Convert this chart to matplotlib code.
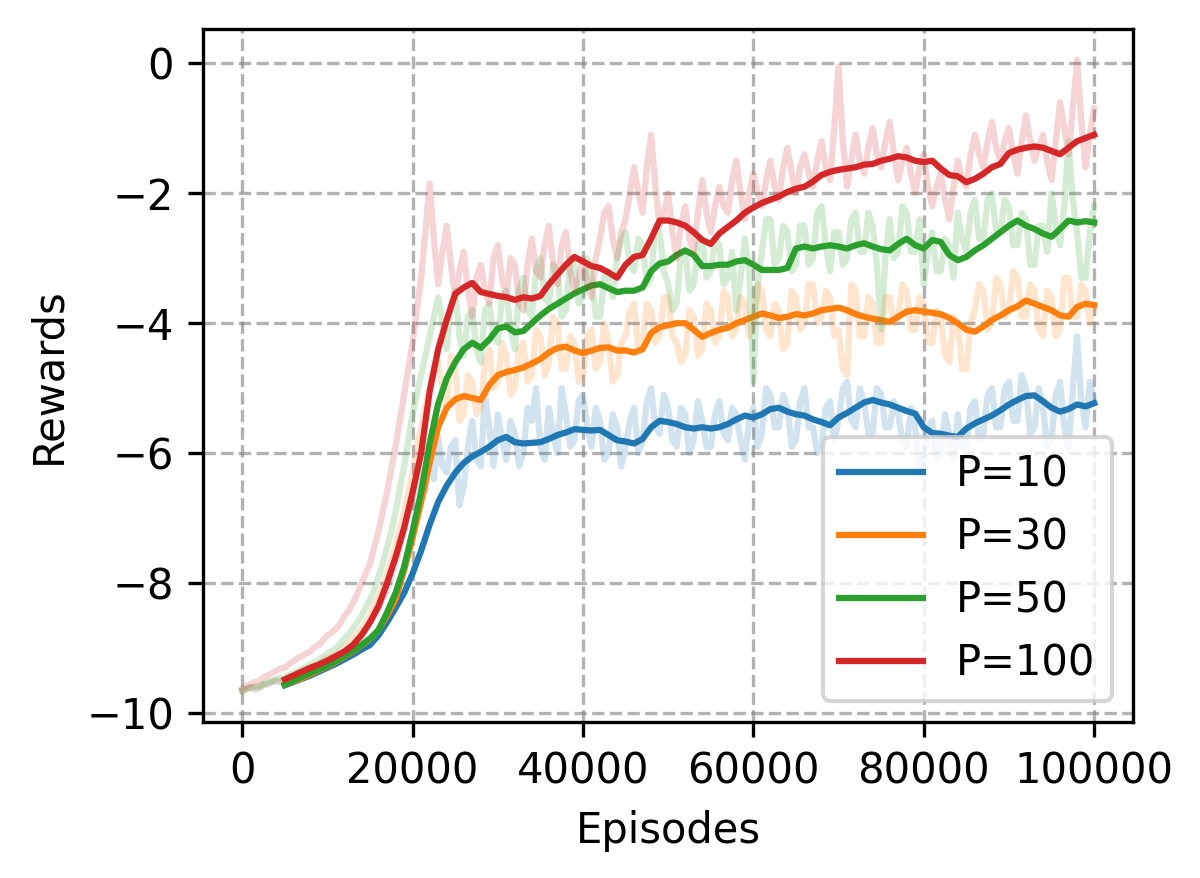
import numpy as np
import matplotlib
matplotlib.use("Agg")
import matplotlib.pyplot as plt

# raw rewards, one value every 500 episodes (0 .. 100000), 10 values per row
episodes_raw = np.arange(0, 100001, 500)

raw_p10 = [-9.65, -9.63, -9.6, -9.64, -9.62, -9.56, -9.55, -9.52, -9.5, -9.53,
           -9.5, -9.46, -9.45, -9.41, -9.4, -9.37, -9.35, -9.31, -9.3, -9.24,
           -9.2, -9.18, -9.15, -9.09, -9.05, -9.0, -8.95, -8.88, -8.8, -8.72,
           -8.6, -8.5, -8.4, -8.25, -8.1, -7.9, -7.7, -7.45, -7.2, -6.95,
           -6.7, -6.5, -6.3, -6.6, -6.0, -6.4, -5.75, -6.2, -6.3, -5.9,
           -5.8, -6.8, -6.5, -5.9, -5.5, -6.1, -6.2, -5.1, -5.6, -6.2,
           -5.4, -5.8, -6.1, -5.5, -5.7, -6.2, -6.0, -5.3, -5.5, -5.0,
           -5.9, -6.1, -5.3, -5.7, -6.0, -5.0, -5.4, -5.9, -5.8, -5.2,
           -5.1, -5.6, -5.9, -5.3, -5.5, -6.1, -6.0, -5.4, -5.6, -6.2,
           -5.9, -5.5, -5.3, -6.0, -5.8, -5.2, -5.0, -5.6, -5.7, -5.1,
           -5.3, -5.8, -5.9, -5.3, -5.4, -6.0, -5.8, -5.2, -5.5, -5.9,
           -5.9, -5.4, -5.2, -5.7, -5.8, -5.3, -5.4, -5.8, -6.1, -5.5,
           -5.3, -5.9, -5.7, -5.0, -5.1, -5.6, -5.6, -5.1, -5.3, -5.9,
           -5.8, -5.2, -5.0, -5.6, -5.6, -6.0, -5.9, -5.3, -5.2, -5.8,
           -5.5, -5.0, -4.9, -5.5, -5.6, -5.0, -5.2, -5.7, -5.7, -5.0,
           -5.1, -5.6, -5.6, -5.2, -5.4, -5.8, -5.9, -5.3, -5.6, -6.2,
           -6.1, -5.6, -5.5, -6.1, -6.0, -5.4, -5.7, -6.1, -5.4, -5.9,
           -5.9, -5.3, -5.2, -5.8, -5.7, -5.1, -5.0, -5.6, -5.6, -5.0,
           -4.9, -5.5, -5.5, -4.8, -5.0, -5.7, -5.6, -5.0, -5.3, -5.9,
           -5.8, -5.1, -4.9, -5.6, -5.9, -5.0, -4.2, -5.2, -5.6, -4.9,
           -5.2]
raw_p30 = [-9.65, -9.63, -9.62, -9.6, -9.6, -9.57, -9.55, -9.52, -9.5, -9.5,
           -9.48, -9.44, -9.42, -9.38, -9.36, -9.33, -9.3, -9.27, -9.25, -9.19,
           -9.15, -9.13, -9.1, -9.04, -8.98, -8.92, -8.85, -8.78, -8.7, -8.6,
           -8.5, -8.35, -8.2, -8.05, -7.85, -7.65, -7.4, -7.15, -6.9, -6.6,
           -6.3, -5.9, -5.6, -5.3, -5.0, -4.7, -4.6, -5.0, -5.3, -4.5,
           -4.7, -5.5, -5.4, -4.8, -4.9, -5.4, -5.3, -4.6, -4.4, -5.0,
           -4.9, -4.3, -4.5, -5.1, -5.0, -4.4, -4.3, -4.9, -4.8, -4.1,
           -4.2, -4.8, -4.6, -3.9, -4.0, -4.7, -4.7, -4.2, -4.3, -4.9,
           -4.8, -4.2, -4.1, -4.7, -4.6, -4.0, -4.3, -4.9, -4.8, -4.3,
           -4.2, -3.8, -3.7, -4.4, -4.3, -3.7, -3.8, -4.3, -4.2, -3.6,
           -3.6, -4.2, -4.3, -4.6, -4.5, -3.8, -3.9, -4.5, -4.4, -3.7,
           -3.8, -4.3, -4.2, -3.5, -3.6, -4.2, -4.1, -3.6, -3.7, -4.2,
           -4.0, -3.4, -3.5, -4.1, -4.2, -3.7, -3.8, -4.4, -4.3, -3.5,
           -3.6, -4.1, -4.0, -3.4, -3.4, -4.0, -3.9, -3.5, -3.6, -4.2,
           -4.1, -4.7, -4.8, -3.4, -3.5, -4.2, -4.2, -3.6, -3.7, -4.3,
           -4.3, -3.6, -3.6, -4.0, -3.9, -3.4, -3.5, -4.1, -4.1, -3.6,
           -3.7, -4.3, -4.3, -3.8, -3.9, -4.5, -4.6, -3.9, -4.0, -4.7,
           -4.7, -4.0, -3.8, -3.4, -3.5, -4.1, -4.0, -3.3, -3.4, -3.9,
           -3.8, -3.2, -3.3, -3.9, -3.9, -3.4, -3.5, -4.1, -4.2, -3.5,
           -3.6, -4.2, -4.1, -3.3, -3.3, -3.9, -3.9, -3.4, -3.5, -4.0,
           -3.8]
raw_p50 = [-9.65, -9.62, -9.6, -9.59, -9.58, -9.55, -9.52, -9.5, -9.47, -9.46,
           -9.45, -9.41, -9.38, -9.35, -9.32, -9.28, -9.25, -9.21, -9.18, -9.13,
           -9.08, -9.04, -9.0, -8.93, -8.85, -8.78, -8.7, -8.6, -8.5, -8.38,
           -8.25, -8.1, -7.9, -7.7, -7.45, -7.2, -6.9, -6.55, -6.2, -5.8,
           -5.4, -5.1, -4.8, -4.5, -4.2, -3.9, -3.6, -4.0, -4.4, -3.7,
           -3.5, -4.2, -4.5, -3.9, -3.8, -4.4, -4.6, -3.8, -3.7, -4.2,
           -4.3, -3.6, -3.5, -4.1, -4.4, -3.5, -3.3, -3.8, -3.9, -3.2,
           -3.0, -3.6, -3.7, -3.1, -3.2, -3.9, -3.8, -3.0, -3.1, -3.7,
           -3.6, -3.0, -3.3, -3.9, -3.9, -3.3, -3.2, -3.6, -3.0, -2.7,
           -2.6, -3.1, -3.2, -2.7, -2.8, -3.4, -3.3, -2.5, -2.6, -3.2,
           -3.4, -3.8, -3.7, -2.9, -2.9, -3.5, -3.4, -2.8, -2.7, -3.3,
           -3.2, -2.7, -2.8, -3.4, -3.3, -2.9, -3.8, -3.3, -2.7, -3.2,
           -4.9, -3.4, -2.9, -2.4, -2.4, -3.1, -3.0, -2.5, -2.6, -3.2,
           -3.1, -2.5, -2.5, -3.1, -3.0, -2.3, -2.2, -2.8, -3.2, -2.6,
           -2.6, -3.1, -3.0, -2.4, -2.3, -2.9, -2.9, -2.3, -2.5, -3.1,
           -4.1, -3.0, -2.4, -3.0, -2.9, -2.2, -2.3, -2.9, -2.9, -2.4,
           -3.4, -2.9, -2.6, -3.2, -3.2, -2.7, -2.8, -3.3, -2.3, -2.7,
           -2.9, -2.3, -2.1, -2.7, -2.7, -2.1, -2.0, -2.6, -2.6, -2.1,
           -2.2, -2.8, -2.8, -2.3, -2.4, -3.1, -3.1, -2.5, -2.5, -2.9,
           -2.0, -2.5, -2.8, -2.2, -1.2, -2.1, -2.6, -3.3, -3.3, -2.6,
           -2.2]
raw_p100 = [-9.62, -9.58, -9.55, -9.52, -9.5, -9.45, -9.42, -9.38, -9.35, -9.31,
            -9.3, -9.24, -9.2, -9.15, -9.12, -9.08, -9.05, -8.98, -8.95, -8.87,
            -8.8, -8.76, -8.7, -8.62, -8.5, -8.42, -8.3, -8.17, -8.0, -7.85,
            -7.7, -7.45, -7.2, -6.9, -6.6, -6.25, -5.9, -5.5, -5.1, -4.7,
            -4.3, -3.8, -3.3, -2.6, -1.85, -2.7, -3.4, -2.9, -2.5, -3.1,
            -3.6, -3.2, -2.9, -3.5, -3.9, -3.3, -3.1, -3.5, -3.7, -3.0,
            -2.8, -3.3, -3.6, -3.0, -3.1, -3.7, -3.8, -3.1, -2.7, -3.2,
            -3.3, -2.8, -2.5, -3.1, -3.4, -2.8, -2.6, -3.2, -3.5, -3.3,
            -3.0, -3.4, -3.6, -3.0, -2.7, -2.3, -2.2, -2.7, -3.0, -2.6,
            -2.4, -2.0, -1.6, -2.0, -2.3, -1.6, -1.1, -1.9, -2.5, -2.3,
            -2.0, -2.6, -3.0, -2.5, -2.2, -2.7, -2.9, -2.3, -1.8, -2.3,
            -2.6, -2.2, -1.9, -2.2, -2.3, -1.8, -1.5, -2.0, -2.4, -2.0,
            -1.7, -2.0, -2.2, -1.8, -1.5, -1.9, -2.1, -1.6, -1.3, -1.7,
            -2.0, -1.6, -1.4, -1.7, -1.9, -1.5, -1.2, -1.6, -1.8, -1.0,
            -0.05, -1.2, -1.9, -1.5, -1.1, -1.5, -1.7, -1.3, -1.0, -1.4,
            -1.6, -1.2, -0.9, -1.4, -1.8, -1.5, -1.3, -1.7, -2.0, -1.6,
            -1.4, -1.9, -2.2, -1.9, -1.7, -2.1, -2.4, -1.9, -1.5, -1.8,
            -1.9, -1.4, -1.1, -1.4, -1.6, -1.2, -0.9, -1.3, -1.5, -1.2,
            -1.0, -1.4, -1.7, -1.2, -0.8, -1.2, -1.5, -1.3, -1.1, -1.5,
            -1.8, -1.2, -0.6, -1.0, -1.4, -0.7, 0.05, -0.9, -1.6, -1.1,
            -0.7]

# smoothed rewards, one value every 1000 episodes (5000 .. 100000)
episodes_smooth = np.arange(5000, 100001, 1000)

smooth_p10 = [-9.57, -9.52, -9.47, -9.42, -9.36, -9.3, -9.24, -9.17, -9.1, -9.02,
              -8.95, -8.8, -8.6, -8.38, -8.15, -7.85, -7.5, -7.1, -6.75, -6.5,
              -6.3, -6.15, -6.05, -5.98, -5.9, -5.8, -5.75, -5.83, -5.85, -5.84,
              -5.83, -5.78, -5.72, -5.68, -5.63, -5.64, -5.65, -5.64, -5.72, -5.8,
              -5.82, -5.85, -5.78, -5.6, -5.5, -5.52, -5.55, -5.6, -5.62, -5.6,
              -5.62, -5.6, -5.55, -5.48, -5.42, -5.45, -5.4, -5.32, -5.3, -5.36,
              -5.4, -5.42, -5.48, -5.52, -5.57, -5.45, -5.38, -5.3, -5.22, -5.18,
              -5.22, -5.25, -5.3, -5.35, -5.39, -5.6, -5.69, -5.7, -5.73, -5.75,
              -5.62, -5.54, -5.48, -5.42, -5.34, -5.25, -5.18, -5.12, -5.11, -5.2,
              -5.3, -5.36, -5.32, -5.25, -5.28, -5.23]
smooth_p30 = [-9.56, -9.51, -9.46, -9.4, -9.34, -9.28, -9.21, -9.13, -9.05, -8.96,
              -8.86, -8.72, -8.5, -8.25, -7.8, -7.3, -6.75, -6.15, -5.6, -5.3,
              -5.17, -5.12, -5.15, -5.18, -4.95, -4.8, -4.75, -4.72, -4.68, -4.62,
              -4.55, -4.45, -4.38, -4.36, -4.42, -4.46, -4.42, -4.38, -4.37, -4.42,
              -4.42, -4.45, -4.4, -4.15, -4.06, -4.03, -4.0, -4.0, -4.1, -4.21,
              -4.15, -4.1, -4.07, -4.0, -3.95, -3.9, -3.85, -3.88, -3.92, -3.9,
              -3.86, -3.88, -3.85, -3.8, -3.78, -3.76, -3.8, -3.86, -3.9, -3.93,
              -3.95, -3.98, -3.9, -3.82, -3.8, -3.82, -3.84, -3.86, -3.92, -4.0,
              -4.1, -4.13, -4.05, -3.95, -3.88, -3.8, -3.74, -3.65, -3.7, -3.75,
              -3.8, -3.88, -3.9, -3.75, -3.7, -3.72]
smooth_p50 = [-9.56, -9.5, -9.44, -9.38, -9.33, -9.27, -9.2, -9.12, -9.04, -8.95,
              -8.85, -8.72, -8.45, -8.15, -7.75, -7.2, -6.6, -5.85, -5.24, -4.85,
              -4.6, -4.4, -4.3, -4.38, -4.25, -4.08, -4.05, -4.14, -4.12, -4.0,
              -3.88, -3.78, -3.7, -3.62, -3.54, -3.48, -3.42, -3.4, -3.46, -3.52,
              -3.5, -3.5, -3.45, -3.2, -3.08, -3.05, -2.95, -2.88, -2.95, -3.12,
              -3.12, -3.1, -3.1, -3.05, -3.03, -3.1, -3.18, -3.18, -3.18, -3.15,
              -2.85, -2.82, -2.85, -2.82, -2.8, -2.82, -2.85, -2.8, -2.77, -2.82,
              -2.86, -2.88, -2.78, -2.7, -2.8, -2.85, -2.72, -2.75, -2.95, -3.03,
              -2.98, -2.88, -2.8, -2.7, -2.6, -2.5, -2.42, -2.5, -2.55, -2.62,
              -2.67, -2.55, -2.42, -2.45, -2.43, -2.45]
smooth_p100 = [-9.48, -9.42, -9.36, -9.3, -9.25, -9.19, -9.12, -9.05, -8.95, -8.8,
               -8.6, -8.35, -8.0, -7.6, -7.15, -6.6, -6.0, -5.05, -4.4, -3.95,
               -3.55, -3.45, -3.38, -3.52, -3.55, -3.58, -3.6, -3.64, -3.6, -3.62,
               -3.58, -3.4, -3.25, -3.1, -2.98, -3.05, -3.12, -3.15, -3.22, -3.3,
               -3.1, -2.98, -2.95, -2.7, -2.42, -2.42, -2.45, -2.5, -2.6, -2.72,
               -2.78, -2.62, -2.52, -2.42, -2.3, -2.22, -2.15, -2.1, -2.05, -1.98,
               -1.93, -1.9, -1.82, -1.72, -1.67, -1.64, -1.62, -1.6, -1.56, -1.55,
               -1.5, -1.47, -1.43, -1.45, -1.5, -1.52, -1.5, -1.62, -1.72, -1.74,
               -1.83, -1.78, -1.7, -1.6, -1.55, -1.38, -1.33, -1.3, -1.28, -1.3,
               -1.35, -1.4, -1.3, -1.2, -1.15, -1.1]

labels = ["P=10", "P=30", "P=50", "P=100"]
colors = ["tab:blue", "tab:orange", "tab:green", "tab:red"]
raws = [raw_p10, raw_p30, raw_p50, raw_p100]
smooths = [smooth_p10, smooth_p30, smooth_p50, smooth_p100]

fig, ax = plt.subplots(figsize=(4, 2.927), dpi=300)
fig.subplots_adjust(left=0.1694, right=0.9442, top=0.9666, bottom=0.178)

for raw, sm, c, lab in zip(raws, smooths, colors, labels):
    ax.plot(episodes_raw, raw, color=c, alpha=0.2, lw=1.5)
    ax.plot(episodes_smooth, sm, color=c, lw=1.5, label=lab)

ax.grid(color='gray', linestyle='--', linewidth=0.8, alpha=0.6)
ax.set_xlim(-4570, 104570)
ax.set_ylim(-10.13, 0.523)
ax.set_xticks([0, 20000, 40000, 60000, 80000, 100000])
ax.set_xlabel("Episodes")
ax.set_ylabel("Rewards")
ax.legend(loc='lower right')

fig.savefig("out.png", dpi=300)
